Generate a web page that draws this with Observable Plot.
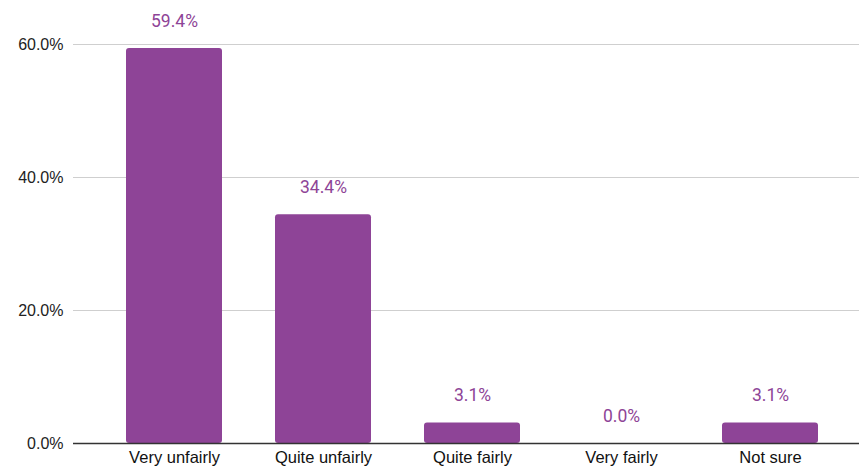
<!DOCTYPE html>
<html>
<head>
<meta charset="utf-8">
<script src="https://cdn.jsdelivr.net/npm/d3@7"></script>
<script src="https://cdn.jsdelivr.net/npm/@observablehq/plot@0.6"></script>
<style>
  html, body { margin: 0; padding: 0; background: #fff; }
  #chart svg { display: block; }
</style>
</head>
<body>
<div id="chart"></div>
<script>
// Survey answers and their share of respondents (%)
const categories = ["Very unfairly", "Quite unfairly", "Quite fairly", "Very fairly", "Not sure"];
const shares = [59.4, 34.4, 3.1, 0.0, 3.1];
const yTicks = [0, 20, 40, 60];

const data = categories.map((c, i) => ({answer: c, share: shares[i]}));
const purple = "#8e4497";
const pct = d => d.toFixed(1) + "%";
const sans = "'Liberation Sans', Arial, sans-serif";

const chart = Plot.plot({
  width: 859,
  height: 470,
  marginLeft: 73,
  marginRight: 0,
  marginTop: 44,
  marginBottom: 27,
  style: {fontFamily: sans, background: "#fff"},
  x: {domain: categories, range: [99.5, 844.5], paddingInner: 0.356, paddingOuter: 0.178, axis: null},
  y: {domain: [0, 60], axis: null},
  marks: [
    Plot.ruleY(yTicks.filter(t => t > 0), {stroke: "#cfcfcf", strokeWidth: 1}),
    Plot.barY(data, {x: "answer", y: "share", fill: purple, rx: 3}),
    Plot.ruleY([0], {stroke: "#333333", strokeWidth: 1.3}),
    Plot.text(data, {
      x: "answer", y: "share", text: d => pct(d.share), dy: -27,
      fill: purple, fontSize: 17.5, fontFamily: "Roboto, sans-serif"
    }),
    Plot.axisY(yTicks, {tickSize: 0, tickPadding: 10, tickFormat: pct, fontSize: 16, fill: "#222", label: null}),
    Plot.axisX({tickSize: 0, tickPadding: 8, fontSize: 16.5, fill: "#111", label: null})
  ]
});
document.getElementById("chart").appendChild(chart);
</script>
</body>
</html>
